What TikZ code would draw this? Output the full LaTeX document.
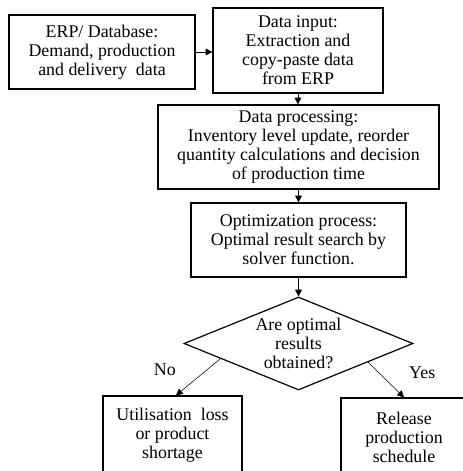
\documentclass[tikz,border=0pt]{standalone}
\usepackage{fontspec}
\setmainfont{Liberation Serif}
\usetikzlibrary{shapes.geometric,arrows.meta}
\begin{document}
\begin{tikzpicture}[x=0.75pt, y=-0.75pt, font=\fontsize{13.4}{14.3}\selectfont, line join=miter,
  >={Triangle[length=5pt,width=5pt]},
  box/.style={draw, line width=0.9pt, align=center, inner sep=0pt},
  decbox/.style={draw, diamond, line width=0.9pt, inner sep=0pt, minimum width=171.75pt, minimum height=69.75pt},
  flow/.style={->, line width=0.6pt},
  thin flow/.style={->, line width=0.4pt}]
\useasboundingbox (0,0) rectangle (463,471);
\clip (0,0) rectangle (463,471);
\node[box, minimum width=139.5pt, minimum height=55.5pt] (erp) at (102,52) {ERP/ Database:\\Demand, production\\and delivery\ \ data};
\node[box, minimum width=127.5pt, minimum height=63.75pt] (input) at (298,50.5) {Data input:\\Extraction and\\copy-paste data\\from ERP};
\node[box, minimum width=210.75pt, minimum height=63pt] (proc) at (298.5,147) {Data processing:\\Inventory level\ update, reorder\\quantity calculations and decision\\of production time};
\node[box, minimum width=161.25pt, minimum height=55.5pt] (opt) at (298.5,240) {Optimization process:\\Optimal result search by\\solver function.};
\node[decbox] (dec) at (298.5,343.5) {};
\node[align=center, inner sep=0pt] (q) at (dec) {Are optimal\\results\\obtained?};
\node[box, minimum width=104.25pt, minimum height=58.5pt] (loss) at (172.5,435) {Utilisation\ \ loss\\or product\\shortage};
\node[box, minimum width=94.5pt, minimum height=58.5pt] (rel) at (404,437) {Release\\production\\schedule};
\draw[flow] (erp.east) -- (erp.east -| input.west);
\draw[flow] (input.south) -- (input.south |- proc.north);
\draw[flow] (proc.south -| opt.north) -- (opt.north);
\draw[flow] (opt.south) -- (dec.north);
\draw[thin flow] (dec.191) -- ([xshift=2.6pt]loss.north) node[pos=0.3, left=20pt]{No};
\draw[thin flow] (dec.345) -- (rel.north) node[pos=0.31, right=19pt]{Yes};
\end{tikzpicture}
\end{document}
